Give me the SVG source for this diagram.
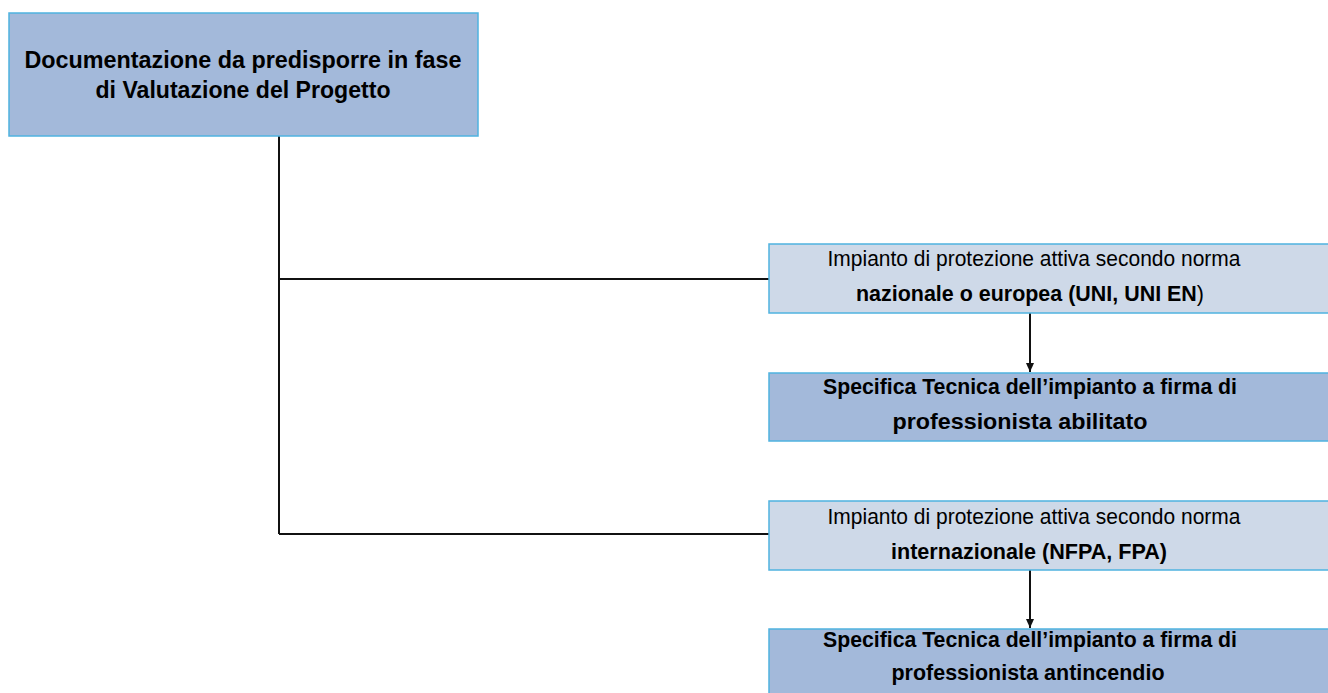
<svg xmlns="http://www.w3.org/2000/svg" width="1328" height="693" viewBox="0 0 1328 693">
<style>
.dark{fill:#A3B9DA;stroke:#4FB3E0;stroke-width:1.5}
.light{fill:#CED9E8;stroke:#4FB3E0;stroke-width:1.5}
text{font-family:"Liberation Sans",Arial,sans-serif;fill:#000;text-anchor:middle}
.b{font-weight:bold}
.conn{fill:none;stroke:#111;stroke-width:2}
</style>
<defs>
<marker id="ah" markerWidth="10" markerHeight="8" refX="9" refY="4" orient="auto" markerUnits="userSpaceOnUse">
<path d="M0,0 L9,4 L0,8 Z" fill="#111"/>
</marker>
</defs>
<g id="connectors">
<path class="conn" d="M279,136 V534"/>
<path class="conn" d="M279,279 H769"/>
<path class="conn" d="M279,534 H769"/>
<path class="conn" d="M1030,313 V372" marker-end="url(#ah)"/>
<path class="conn" d="M1030,570 V628" marker-end="url(#ah)"/>
</g>
<g id="n1">
<rect class="dark" x="9" y="13" width="469" height="123"/>
<text class="b" x="243" y="68" font-size="24" textLength="437" lengthAdjust="spacingAndGlyphs">Documentazione da predisporre in fase</text>
<text class="b" x="243" y="98" font-size="24" textLength="295" lengthAdjust="spacingAndGlyphs">di Valutazione del Progetto</text>
</g>
<g id="n2">
<rect class="light" x="769" y="244" width="580" height="69"/>
<text x="1034" y="266" font-size="22.5" textLength="413" lengthAdjust="spacingAndGlyphs">Impianto di protezione attiva secondo norma</text>
<text x="1030" y="301" font-size="22.5" textLength="348" lengthAdjust="spacingAndGlyphs"><tspan class="b">nazionale o europea (UNI, UNI EN</tspan>)</text>
</g>
<g id="n3">
<rect class="dark" x="769" y="373" width="580" height="68"/>
<text class="b" x="1030" y="394" font-size="22.5" textLength="414" lengthAdjust="spacingAndGlyphs">Specifica Tecnica dell’impianto a firma di</text>
<text class="b" x="1020" y="429" font-size="22.5" textLength="255" lengthAdjust="spacingAndGlyphs">professionista abilitato</text>
</g>
<g id="n4">
<rect class="light" x="769" y="501" width="580" height="69"/>
<text x="1034" y="524" font-size="22.5" textLength="413" lengthAdjust="spacingAndGlyphs">Impianto di protezione attiva secondo norma</text>
<text class="b" x="1029" y="559" font-size="22.5" textLength="276" lengthAdjust="spacingAndGlyphs">internazionale (NFPA, FPA)</text>
</g>
<g id="n5">
<rect class="dark" x="769" y="629" width="580" height="80"/>
<text class="b" x="1030" y="647" font-size="22.5" textLength="414" lengthAdjust="spacingAndGlyphs">Specifica Tecnica dell’impianto a firma di</text>
<text class="b" x="1028" y="680" font-size="22.5" textLength="273" lengthAdjust="spacingAndGlyphs">professionista antincendio</text>
</g>
</svg>
